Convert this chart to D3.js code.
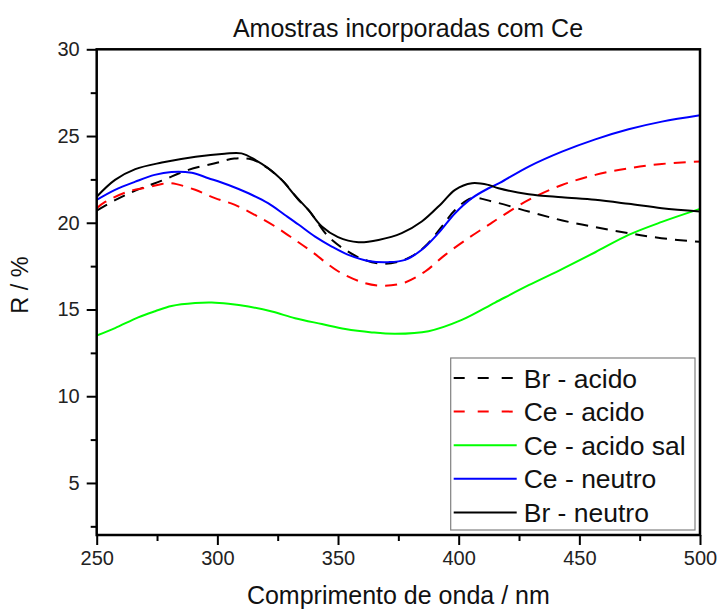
<!DOCTYPE html>
<html>
<head>
<meta charset="utf-8">
<script src="https://cdn.jsdelivr.net/npm/d3@7"></script>
<style>
  body { margin: 0; background: #fff; }
  svg { display: block; font-family: "Liberation Sans", Arial, sans-serif; }
</style>
</head>
<body>
<div id="chart"></div>
<script>
// wavelength (nm) / reflectance (%)
const brAcidoX = [250, 257.6, 266, 277, 288, 299, 307, 314, 321, 328, 333.6, 338, 346, 353, 361, 369.5, 379, 386, 393, 398.5, 405.5, 414, 429, 443, 456.6, 470.4, 484, 500];
const brAcidoY = [20.7, 21.3, 21.85, 22.43, 23.05, 23.43, 23.7, 23.66, 23.14, 22.28, 21.32, 20.7, 19.2, 18.44, 17.86, 17.63, 17.96, 18.63, 19.78, 20.74, 21.42, 21.22, 20.65, 20.13, 19.75, 19.4, 19.11, 18.9];

const ceAcidoX = [250, 253.5, 263, 271.4, 277, 281, 290.8, 299, 307.3, 315.6, 324, 332.2, 339.1, 350.2, 361.2, 369.5, 377.8, 386.1, 394.4, 404, 412.4, 417, 429, 442.8, 456.6, 470.4, 484.2, 500];
const ceAcidoY = [20.84, 21.2, 21.8, 22.05, 22.24, 22.28, 21.9, 21.42, 21.03, 20.45, 19.78, 19.01, 18.34, 17.19, 16.52, 16.37, 16.56, 17.19, 18.15, 19.11, 19.88, 20.3, 21.32, 22.18, 22.76, 23.14, 23.39, 23.53];

const ceAcidoSalX = [250, 257.6, 267.2, 274.2, 281, 290.8, 297.7, 304.6, 312.9, 322.6, 332.2, 343.3, 353, 364, 373.7, 387.5, 401.3, 415.1, 429, 442.8, 456.6, 470.4, 484.2, 500];
const ceAcidoSalY = [13.5, 13.93, 14.55, 14.9, 15.2, 15.37, 15.4, 15.33, 15.17, 14.88, 14.5, 14.16, 13.87, 13.68, 13.6, 13.75, 14.4, 15.4, 16.4, 17.33, 18.3, 19.3, 20.05, 20.8];

const ceNeutroX = [250, 257.6, 266, 274, 281, 289.4, 296.3, 304.6, 312.9, 321, 328, 333.6, 340.5, 347.4, 354.3, 362.6, 370.9, 377.8, 384.7, 391.6, 398.5, 405.5, 412.4, 417, 429, 442.8, 456.6, 470.4, 484.2, 500];
const ceNeutroY = [21.32, 21.9, 22.37, 22.76, 22.93, 22.88, 22.57, 22.18, 21.7, 21.13, 20.45, 19.9, 19.2, 18.63, 18.15, 17.8, 17.73, 17.86, 18.44, 19.4, 20.55, 21.42, 21.99, 22.3, 23.24, 24.1, 24.81, 25.39, 25.83, 26.2];

const brNeutroX = [250, 257.6, 266, 277, 291, 303, 310, 316, 321, 326.7, 332, 337.7, 343.3, 350, 358.5, 366.8, 376.4, 384.7, 393, 398.5, 405.5, 412.4, 416.5, 429, 442.8, 456.6, 470.4, 484.2, 500];
const brNeutroY = [21.5, 22.47, 23.09, 23.47, 23.81, 23.98, 24.0, 23.6, 23.15, 22.47, 21.6, 20.74, 19.78, 19.17, 18.88, 19.01, 19.4, 20.07, 21.13, 21.9, 22.28, 22.18, 21.99, 21.65, 21.47, 21.32, 21.09, 20.84, 20.65];

const seriesNames = ["Br - acido", "Ce - acido", "Ce - acido sal", "Ce - neutro", "Br - neutro"];
const seriesColors = ["#000000", "#ff0000", "#00ff00", "#0000ff", "#000000"];
const seriesDashed = [true, true, false, false, false];

const xTicks = [250, 300, 350, 400, 450, 500];
const xMinor = [275, 325, 375, 425, 475];
const yTicks = [5, 10, 15, 20, 25, 30];
const yMinor = [2.5, 7.5, 12.5, 17.5, 22.5, 27.5];

const title = "Amostras incorporadas com Ce";
const xTitle = "Comprimento de onda / nm";
const yTitle = "R / %";

const series = [
  [brAcidoX, brAcidoY], [ceAcidoX, ceAcidoY], [ceAcidoSalX, ceAcidoSalY],
  [ceNeutroX, ceNeutroY], [brNeutroX, brNeutroY]
].map((s, i) => ({
  name: seriesNames[i], color: seriesColors[i], dashed: seriesDashed[i],
  values: s[0].map((x, j) => ({ x: x, y: s[1][j] }))
}));

const width = 718, height = 610;
const margin = { top: 49.3, right: 18, bottom: 75, left: 96.7 };

const svg = d3.select("#chart").append("svg")
  .attr("width", width).attr("height", height);

const x = d3.scaleLinear().domain([250, 500]).range([margin.left, width - margin.right]);
const y = d3.scaleLinear().domain([2, 30]).range([height - margin.bottom, margin.top]);

// lines
const line = d3.line().x(d => x(d.x)).y(d => y(d.y)).curve(d3.curveCatmullRom.alpha(0.5));
const plot = svg.append("g");
plot.selectAll("path").data(series).join("path")
  .attr("d", d => line(d.values))
  .attr("fill", "none")
  .attr("stroke", d => d.color)
  .attr("stroke-width", 2)
  .attr("stroke-dasharray", d => d.dashed ? "12,8" : null);

// axes
svg.append("g").attr("transform", `translate(0,${y(2)})`)
  .call(d3.axisBottom(x).tickValues(xTicks).tickSize(10).tickPadding(6).tickFormat(d3.format("d")));
svg.append("g").attr("transform", `translate(0,${y(2)})`)
  .call(d3.axisBottom(x).tickValues(xMinor).tickSize(6).tickFormat(""));
svg.append("g").attr("transform", `translate(${x(250)},0)`)
  .call(d3.axisLeft(y).tickValues(yTicks).tickSize(10).tickPadding(7).tickFormat(d3.format("d")));
svg.append("g").attr("transform", `translate(${x(250)},0)`)
  .call(d3.axisLeft(y).tickValues(yMinor).tickSize(6).tickFormat(""));

svg.selectAll(".domain").remove();
svg.selectAll(".tick line").attr("stroke", "#000").attr("stroke-width", 2);
svg.selectAll(".tick text").attr("font-size", 20).attr("fill", "#222")
  .style("font-family", "'Liberation Sans', Arial, sans-serif");

// frame
svg.append("rect")
  .attr("x", x(250)).attr("y", y(30))
  .attr("width", x(500) - x(250)).attr("height", y(2) - y(30))
  .attr("fill", "none").attr("stroke", "#000").attr("stroke-width", 2.5);

// titles
svg.append("text").attr("x", 408).attr("y", 37)
  .attr("text-anchor", "middle").attr("font-size", 25).attr("fill", "#111").text(title);
svg.append("text").attr("x", (x(250) + x(500)) / 2).attr("y", 604)
  .attr("text-anchor", "middle").attr("font-size", 25).attr("fill", "#111").text(xTitle);
svg.append("text").attr("transform", "translate(28,285) rotate(-90)")
  .attr("text-anchor", "middle").attr("font-size", 23.5).attr("fill", "#111").text(yTitle);

// legend
const lg = svg.append("g").attr("transform", "translate(450.7,358)");
lg.append("rect").attr("width", 244.3).attr("height", 172)
  .attr("fill", "#fff").attr("stroke", "#808080").attr("stroke-width", 1.2);
const item = lg.selectAll("g.item").data(series).join("g")
  .attr("class", "item")
  .attr("transform", (d, i) => `translate(0,${20 + i * 33.6})`);
item.append("line").attr("x1", 3).attr("x2", 66)
  .attr("stroke", d => d.color).attr("stroke-width", 2)
  .attr("stroke-dasharray", d => d.dashed ? "11,13" : null);
item.append("text").attr("x", 73).attr("y", 9.5)
  .attr("font-size", 26.5).attr("fill", "#111").text(d => d.name);
</script>
</body>
</html>
